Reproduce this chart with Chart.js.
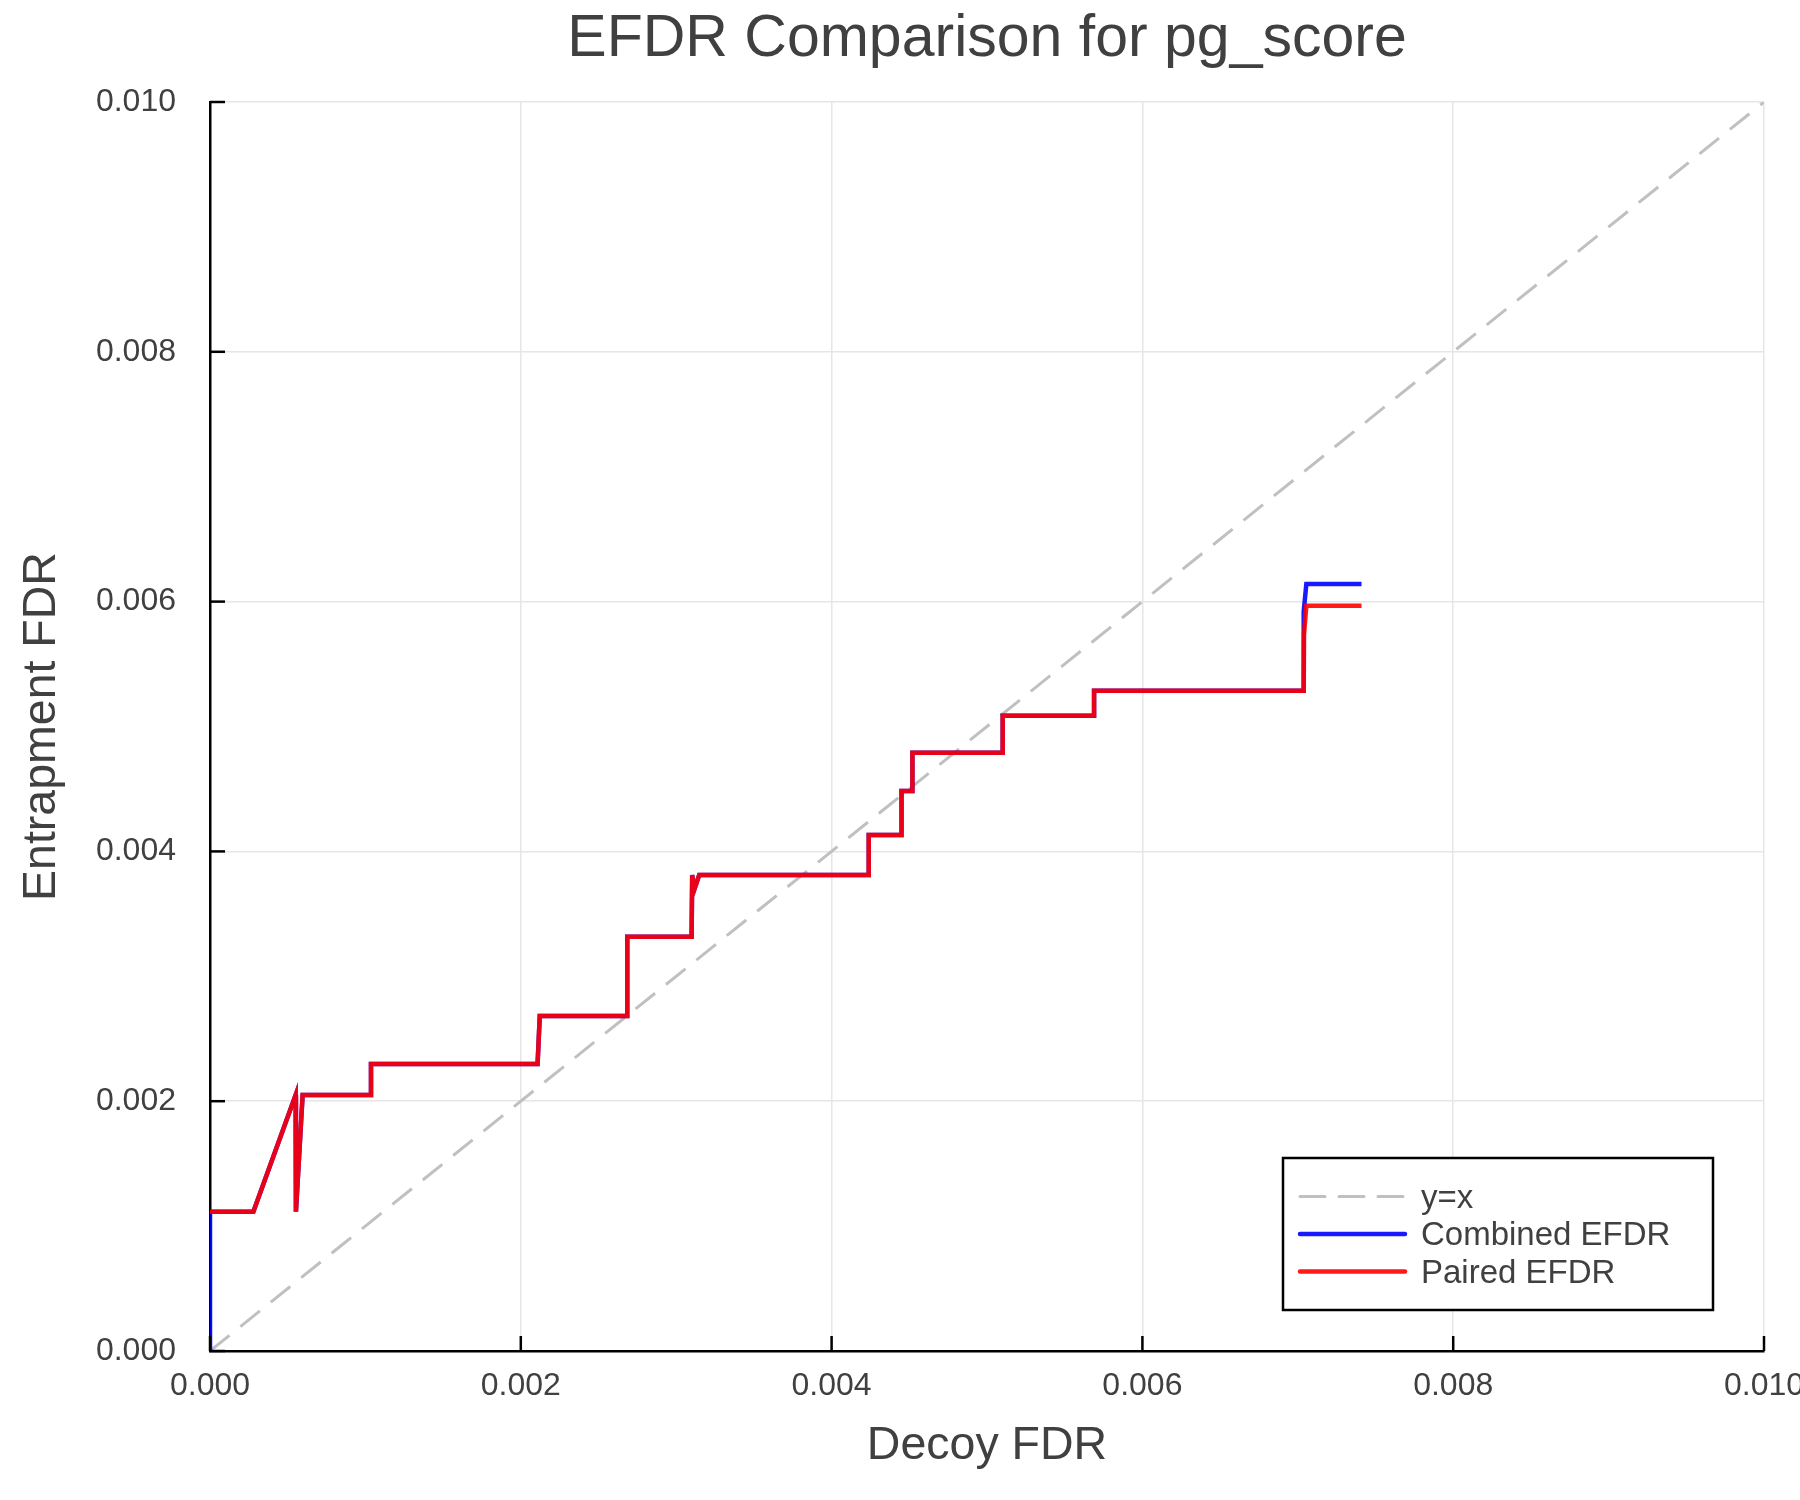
<!DOCTYPE html>
<html>
<head>
<meta charset="utf-8">
<title>EFDR Comparison for pg_score</title>
<script src="https://cdn.jsdelivr.net/npm/chart.js@4.4.1/dist/chart.umd.min.js"></script>
<style>
    html, body { margin: 0; padding: 0; background: #ffffff; }
    #efdrChart { display: block; }
</style>
</head>
<body>
<canvas id="efdrChart" width="1800" height="1500"></canvas>
<script>
// tick values shared by both axes
const tickValues = [0, 0.002, 0.004, 0.006, 0.008, 0.010];

// y = x reference
const diagX = [0, 0.010];
const diagY = [0, 0.010];

// Paired EFDR
const pairedX = [0, 0.000279, 0.000551, 0.000553, 0.000596, 0.001036, 0.001036, 0.002108, 0.002122,
    0.002685, 0.002685, 0.003099, 0.003103, 0.003115, 0.003148, 0.004239, 0.004239, 0.00445, 0.00445,
    0.00452, 0.00452, 0.005101, 0.005101, 0.005689, 0.005689, 0.007038, 0.007040, 0.007055, 0.00741];
const pairedY = [0.001115, 0.001115, 0.00205, 0.001115, 0.00205, 0.00205, 0.002298, 0.002298, 0.002682,
    0.002682, 0.003317, 0.003317, 0.003811, 0.00369, 0.003811, 0.003811, 0.004131, 0.004131, 0.004484,
    0.004484, 0.00479, 0.00479, 0.005087, 0.005087, 0.005287, 0.005287, 0.00574, 0.005967, 0.005967];

// Combined EFDR: same path, starts at the origin and ends a bit higher
const combinedX = [0, 0, 0.000279, 0.000551, 0.000553, 0.000596, 0.001036, 0.001036, 0.002108, 0.002122,
    0.002685, 0.002685, 0.003099, 0.003103, 0.003115, 0.003148, 0.004239, 0.004239, 0.00445, 0.00445,
    0.00452, 0.00452, 0.005101, 0.005101, 0.005689, 0.005689, 0.007038, 0.007038, 0.007055, 0.00741];
const combinedY = [0, 0.001115, 0.001115, 0.00205, 0.001115, 0.00205, 0.00205, 0.002298, 0.002298, 0.002682,
    0.002682, 0.003317, 0.003317, 0.003811, 0.00369, 0.003811, 0.003811, 0.004131, 0.004131, 0.004484,
    0.004484, 0.00479, 0.00479, 0.005087, 0.005087, 0.005287, 0.005287, 0.00592, 0.006141, 0.006141];

const chartTitle = "EFDR Comparison for pg_score";
const textColor = "#404040";
const fontFamily = "'Liberation Sans', Arial, Helvetica, sans-serif";

function toPoints(xs, ys) {
    return xs.map((x, i) => ({ x: x, y: ys[i] }));
}

// title over the plot area, ticks drawn inward, legend box inside the plot
const insidePlugin = {
    id: "insideExtras",
    afterDraw(chart) {
        const ctx = chart.ctx;
        const area = chart.chartArea;
        const xs = chart.scales.x;
        const ys = chart.scales.y;

        ctx.save();
        ctx.fillStyle = textColor;
        ctx.font = "59px " + fontFamily;
        ctx.textAlign = "center";
        ctx.textBaseline = "middle";
        ctx.fillText(chartTitle, (area.left + area.right) / 2, 40);

        ctx.strokeStyle = "#000000";
        ctx.lineWidth = 2.5;
        tickValues.forEach(v => {
            const px = xs.getPixelForValue(v);
            ctx.beginPath();
            ctx.moveTo(px, area.bottom);
            ctx.lineTo(px, area.bottom - 15);
            ctx.stroke();
            const py = ys.getPixelForValue(v);
            ctx.beginPath();
            ctx.moveTo(area.left, py);
            ctx.lineTo(area.left + 15, py);
            ctx.stroke();
        });

        // legend
        const boxW = 430, boxH = 152;
        const bx = area.right - 51 - boxW;
        const by = area.bottom - 41 - boxH;
        ctx.fillStyle = "#ffffff";
        ctx.fillRect(bx, by, boxW, boxH);
        ctx.lineWidth = 2.5;
        ctx.strokeStyle = "#000000";
        ctx.strokeRect(bx, by, boxW, boxH);

        ctx.font = "33px " + fontFamily;
        ctx.textBaseline = "middle";
        ctx.textAlign = "left";
        chart.data.datasets.forEach((ds, i) => {
            const rowY = by + 38.5 + i * 37.5;
            ctx.beginPath();
            ctx.strokeStyle = ds.borderColor;
            ctx.lineWidth = ds.borderWidth;
            ctx.lineCap = "round";
            ctx.setLineDash(ds.borderDash || []);
            ctx.moveTo(bx + 17, rowY);
            ctx.lineTo(bx + 122, rowY);
            ctx.stroke();
            ctx.setLineDash([]);
            ctx.fillStyle = textColor;
            ctx.fillText(ds.label, bx + 138, rowY + 2);
        });
        ctx.restore();
    }
};

const axisTicks = {
    color: textColor,
    font: { family: fontFamily, size: 32 },
    callback: v => Number(v).toFixed(3)
};

new Chart(document.getElementById("efdrChart"), {
    type: "scatter",
    data: {
        datasets: [
            {
                label: "y=x",
                data: toPoints(diagX, diagY),
                showLine: true,
                borderColor: "#c0c0c0",
                borderWidth: 3,
                borderDash: [25, 14],
                pointRadius: 0,
                order: 3
            },
            {
                label: "Combined EFDR",
                data: toPoints(combinedX, combinedY),
                showLine: true,
                borderColor: "rgba(0, 0, 255, 0.9)",
                borderWidth: 4.5,
                pointRadius: 0,
                order: 2
            },
            {
                label: "Paired EFDR",
                data: toPoints(pairedX, pairedY),
                showLine: true,
                borderColor: "rgba(255, 0, 0, 0.9)",
                borderWidth: 4.5,
                pointRadius: 0,
                order: 1
            }
        ]
    },
    options: {
        responsive: false,
        animation: false,
        devicePixelRatio: 1,
        layout: { padding: { top: 102, right: 36, bottom: 0, left: 0 } },
        plugins: {
            legend: { display: false },
            tooltip: { enabled: false },
            title: { display: false }
        },
        scales: {
            x: {
                type: "linear",
                min: 0,
                max: 0.010,
                afterBuildTicks: axis => { axis.ticks = tickValues.map(v => ({ value: v })); },
                afterFit: axis => {
                    axis.height = 149;
                    axis.paddingLeft = 0;
                    axis.paddingRight = 0;
                },
                ticks: Object.assign({ padding: 16, maxRotation: 0 }, axisTicks),
                grid: { color: "#e6e6e6", lineWidth: 1.5, drawTicks: false },
                border: { color: "#000000", width: 2.5 },
                title: {
                    display: true,
                    text: "Decoy FDR",
                    color: textColor,
                    font: { family: fontFamily, size: 46.5, lineHeight: 1.2 },
                    padding: { top: 0, bottom: 26 }
                }
            },
            y: {
                type: "linear",
                min: 0,
                max: 0.010,
                afterBuildTicks: axis => { axis.ticks = tickValues.map(v => ({ value: v })); },
                afterFit: axis => {
                    axis.width = 210;
                    axis.paddingTop = 0;
                    axis.paddingBottom = 0;
                },
                ticks: Object.assign({ padding: 34 }, axisTicks),
                grid: { color: "#e6e6e6", lineWidth: 1.5, drawTicks: false },
                border: { color: "#000000", width: 2.5 },
                title: {
                    display: true,
                    text: "Entrapment FDR",
                    color: textColor,
                    font: { family: fontFamily, size: 46.5, lineHeight: 1.2 },
                    padding: { top: 14, bottom: 0 }
                }
            }
        }
    },
    plugins: [insidePlugin]
});
</script>
</body>
</html>
